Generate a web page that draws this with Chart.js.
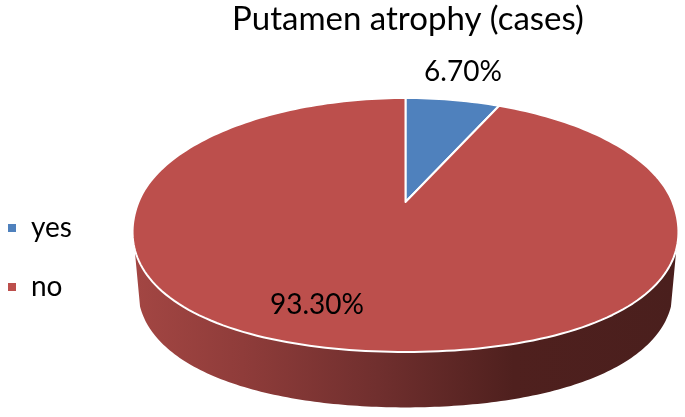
<!DOCTYPE html>
<html><head><meta charset="utf-8">
<style>html,body{margin:0;padding:0;background:#fff}canvas{display:block}</style>
<script src="https://cdn.jsdelivr.net/npm/chart.js@4"></script>
</head><body><canvas id="c" width="685" height="417"></canvas>
<script>
const categories = ['yes', 'no'];
const percentages = [6.7, 93.3];
const sliceColors = ['#4f81bd', '#bc4f4c'];
const chartTitle = 'Putamen atrophy (cases)';

// perspective view of the pie's unit disc
const view = {cx: 405.5, ax: 267, ay: -86.25, by: 202, c: 0.181, wallShrink: 0.98, wallDrop: 58, midY: 225, bulge: 0.032};
function rimPoint(a) {
  // canvas angle on the rim; the near half of the disc is very slightly fuller
  const s = Math.sin(2 * a);
  const m = Math.sin(a) > 0 ? 1 + view.bulge * s * s : 1;
  return [m * Math.cos(a), -m * Math.sin(a)];
}
function project(u, v) {
  const w = 1 + view.c * v;
  return [view.cx + view.ax * u / w, (view.ay * v + view.by) / w];
}
function projectBottom(u, v) {
  const p = project(u, v);
  return [view.cx + (p[0] - view.cx) * view.wallShrink,
          view.midY + (p[1] - view.midY) * view.wallShrink + view.wallDrop];
}
function drawProjectedArc(ctx) {
  const start = this.startAngle, end = this.endAngle;
  const n = Math.max(8, Math.ceil((end - start) * 40));
  ctx.save();
  ctx.beginPath();
  const o = project(0, 0);
  ctx.moveTo(o[0], o[1]);
  for (let i = 0; i <= n; i++) {
    const r = rimPoint(start + (end - start) * i / n);
    const p = project(r[0], r[1]);
    ctx.lineTo(p[0], p[1]);
  }
  ctx.closePath();
  ctx.fillStyle = this.options.backgroundColor;
  ctx.fill();
  ctx.strokeStyle = this.options.borderColor;
  ctx.lineWidth = this.options.borderWidth;
  ctx.lineJoin = 'round';
  ctx.stroke();
  ctx.restore();
}
const pie3d = {
  id: 'pie3d',
  afterLayout(chart) {
    const t = chart.titleBlock;
    t.left = 131; t.right = 685; t.top = 0; t.bottom = 46;
    const l = chart.legend;
    l.left = -24; l.right = 120; l.top = 183; l.bottom = 417;
  },
  beforeDatasetsDraw(chart) {
    const meta = chart.getDatasetMeta(0);
    meta.data.forEach(arc => { arc.draw = drawProjectedArc; });
    const ctx = chart.ctx;
    const a0 = Math.PI - 0.36, a1 = 0.36;
    // front wall, canvas angles running from the right side through the bottom to the left
    const n = 160, top = [], bot = [];
    for (let i = 0; i <= n; i++) {
      const r = rimPoint(a1 + (a0 - a1) * i / n);
      top.push(project(r[0], r[1]));
      bot.push(projectBottom(r[0], r[1]));
    }
    const g = ctx.createLinearGradient(134, 0, 676, 0);
    g.addColorStop(0, '#a34643');
    g.addColorStop(0.2, '#8f3c3a');
    g.addColorStop(0.45, '#702f2e');
    g.addColorStop(0.7, '#4f201e');
    g.addColorStop(1, '#4a1f1d');
    ctx.save();
    ctx.beginPath();
    top.forEach((p, i) => i ? ctx.lineTo(p[0], p[1]) : ctx.moveTo(p[0], p[1]));
    bot.reverse().forEach(p => ctx.lineTo(p[0], p[1]));
    ctx.closePath();
    ctx.fillStyle = g;
    ctx.fill();
    ctx.restore();
  },
  afterDatasetsDraw(chart) {
    const ctx = chart.ctx;
    const spots = [[463, 72], [317, 305]];
    ctx.save();
    ctx.font = '28px Lato';
    ctx.fillStyle = '#000';
    ctx.textAlign = 'center';
    ctx.textBaseline = 'middle';
    percentages.forEach((v, i) => ctx.fillText(v.toFixed(2) + '%', spots[i][0], spots[i][1]));
    ctx.restore();
  }
};
new Chart(document.getElementById('c'), {
  type: 'pie',
  data: {
    labels: categories,
    datasets: [{data: percentages, backgroundColor: sliceColors, borderColor: '#ffffff', borderWidth: 2}]
  },
  options: {
    responsive: false,
    animation: false,
    plugins: {
      title: {display: true, text: chartTitle, color: '#000', font: {family: 'Lato', size: 33, weight: 'normal'}, padding: {top: 0, bottom: 0}},
      legend: {
        display: true, position: 'left', align: 'start',
        labels: {color: '#000', boxWidth: 10, boxHeight: 10, padding: 31, font: {family: 'Lato', size: 28}}
      },
      tooltip: {enabled: false}
    }
  },
  plugins: [pie3d]
});
</script></body></html>
